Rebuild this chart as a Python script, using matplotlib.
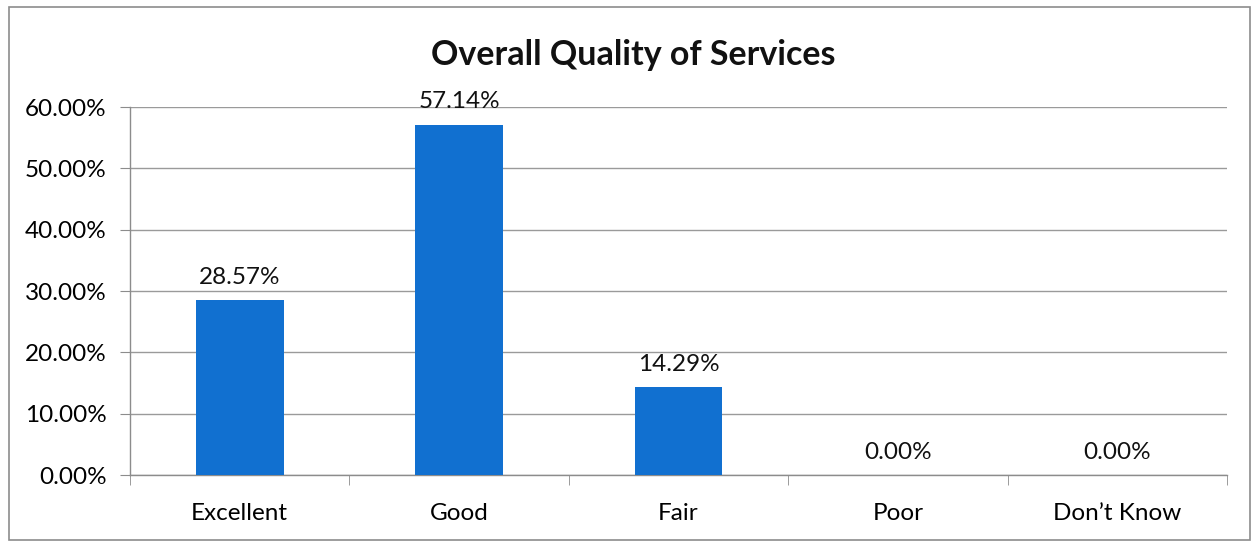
import matplotlib.pyplot as plt
from matplotlib.patches import Rectangle
from matplotlib.ticker import FuncFormatter

categories = ['Excellent', 'Good', 'Fair', 'Poor', 'Don\u2019t Know']
values = [28.57, 57.14, 14.29, 0.00, 0.00]
y_ticks = [0, 10, 20, 30, 40, 50, 60]

plt.rcParams['font.family'] = ['Lato', 'DejaVu Sans']

fig = plt.figure(figsize=(12.57, 5.42), dpi=100)
ax = fig.add_axes([130 / 1257, 1 - 475 / 542, (1227 - 130) / 1257, (475 - 107) / 542])

# chart border
fig.patches.append(Rectangle((9 / 1257, 2 / 542), 1241 / 1257, 533 / 542,
                             transform=fig.transFigure, fill=False,
                             edgecolor='#8c8c8c', linewidth=1.2))

x = list(range(len(categories)))
bars = ax.bar(x, values, width=0.4, color='#1170d0', zorder=3)

for xi, v in zip(x, values):
    ax.text(xi, v + 2.0, f'{v:.2f}%', ha='center', va='bottom', fontsize=17.5, color='#111111')

ax.set_xlim(-0.5, len(categories) - 0.5)
ax.set_ylim(0, 60)
ax.set_yticks(y_ticks)
ax.yaxis.set_major_formatter(FuncFormatter(lambda v, p: f'{v:.2f}%'))
ax.grid(axis='y', color='#9a9a9a', linewidth=1.0, zorder=0)

ax.set_xticks(x)
ax.set_xticklabels(categories)
ax.set_xticks([i - 0.5 for i in range(len(categories) + 1)], minor=True)
ax.tick_params(axis='x', which='major', length=0, pad=20, labelsize=17.5)
ax.tick_params(axis='x', which='minor', length=7, color='#8c8c8c', direction='out')
ax.tick_params(axis='y', length=7, color='#8c8c8c', labelsize=17.5, pad=10)

for s in ['top', 'right']:
    ax.spines[s].set_visible(False)
for s in ['left', 'bottom']:
    ax.spines[s].set_color('#8c8c8c')
    ax.spines[s].set_linewidth(1.0)

fig.text(633 / 1257, 1 - 55 / 542, 'Overall Quality of Services', ha='center', va='center',
         fontsize=24.5, fontweight='bold', color='#111111')

fig.savefig('out.png', dpi=100)
